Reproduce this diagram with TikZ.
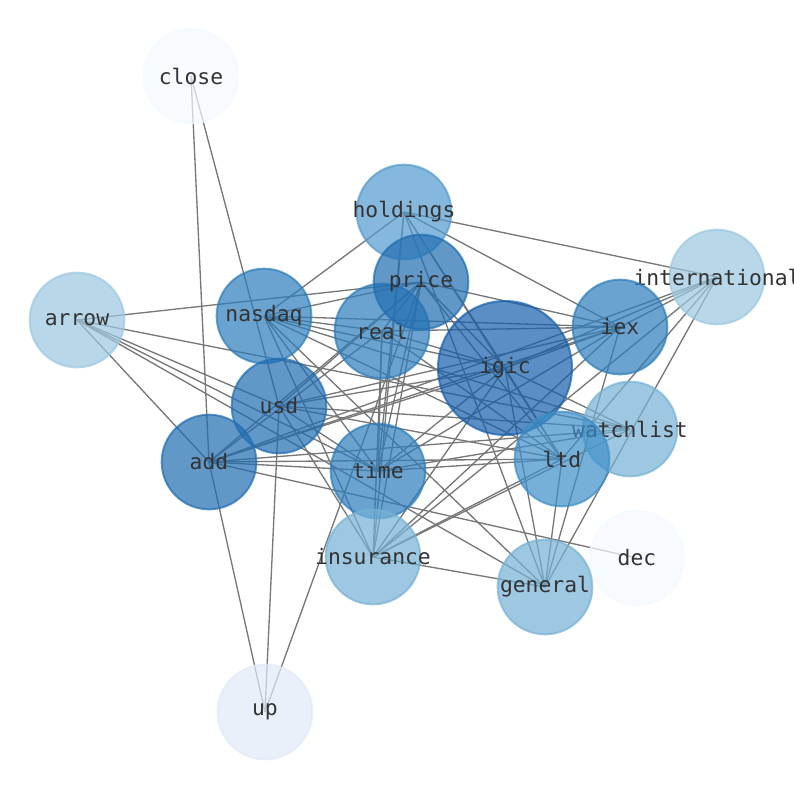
\documentclass[tikz,border=0pt]{standalone}
\usepackage{fontspec}
\setmonofont{DejaVu Sans Mono}
\usetikzlibrary{backgrounds}

\definecolor{b02}{RGB}{245,250,255}
\definecolor{b12}{RGB}{224,235,248}
\definecolor{b40}{RGB}{155,200,225}
\definecolor{b52}{RGB}{117,178,214}
\definecolor{b58}{RGB}{82,155,206}
\definecolor{b63}{RGB}{61,142,200}
\definecolor{b70}{RGB}{44,125,187}
\definecolor{b76}{RGB}{32,109,178}
\definecolor{b80}{RGB}{21,95,171}
\definecolor{edgegray}{RGB}{120,120,120}

\tikzset{
  word/.style={circle,minimum size=71pt,inner sep=0pt,line width=1.5pt,
    fill=#1,draw=#1,fill opacity=0.7,draw opacity=0.7},
  bigword/.style={word=#1,minimum size=100.5pt},
  lbl/.style={font=\ttfamily\fontsize{16}{18}\selectfont,text=black!80,
    text opacity=1,fill opacity=0,draw opacity=0,inner sep=0pt},
}

\begin{document}
\begin{tikzpicture}[x=0.75pt,y=-0.75pt]
  \useasboundingbox (0,0) rectangle (794,790);

  \node[word=b02,label={[lbl]center:close}] (close) at (191,76) {};
  \node[word=b58,label={[lbl]center:holdings}] (holdings) at (404,212) {};
  \node[word=b40,label={[lbl]center:international}] (international) at (717,277) {};
  \node[word=b40,label={[lbl]center:arrow}] (arrow) at (77,320) {};
  \node[word=b70,label={[lbl]center:nasdaq}] (nasdaq) at (264,316) {};
  \node[word=b70,label={[lbl]center:iex}] (iex) at (620,327) {};
  \node[word=b70,label={[lbl]center:real}] (real) at (382,331) {};
  \node[word=b76,label={[lbl]center:price}] (price) at (421,282) {};
  \node[bigword=b80,label={[lbl]center:igic}] (igic) at (505,368) {};
  \node[word=b52,label={[lbl]center:watchlist}] (watchlist) at (630,429) {};
  \node[word=b76,label={[lbl]center:usd}] (usd) at (279,406) {};
  \node[word=b63,label={[lbl]center:ltd}] (ltd) at (562,459) {};
  \node[word=b76,label={[lbl]center:add}] (add) at (209,462) {};
  \node[word=b70,label={[lbl]center:time}] (time) at (378,471) {};
  \node[word=b52,label={[lbl]center:insurance}] (insurance) at (373,557) {};
  \node[word=b02,label={[lbl]center:dec}] (dec) at (637,558) {};
  \node[word=b52,label={[lbl]center:general}] (general) at (545,587) {};
  \node[word=b12,label={[lbl]center:up}] (up) at (265,712) {};

  \begin{pgfonlayer}{background}
  \fill[white] (0,0) rectangle (794,790);
  \draw[every edge/.style={draw=edgegray,line width=1pt}]
  (close.center) edge (add.center)
  (close.center) edge (usd.center)
  (up.center) edge (add.center)
  (up.center) edge (usd.center)
  (up.center) edge (price.center)
  (arrow.center) edge (price.center)
  (arrow.center) edge (watchlist.center)
  (arrow.center) edge (usd.center)
  (arrow.center) edge (time.center)
  (arrow.center) edge (general.center)
  (arrow.center) edge (add.center)
  (holdings.center) edge (international.center)
  (holdings.center) edge (iex.center)
  (holdings.center) edge (nasdaq.center)
  (holdings.center) edge (ltd.center)
  (holdings.center) edge (time.center)
  (holdings.center) edge (insurance.center)
  (holdings.center) edge (general.center)
  (holdings.center) edge (igic.center)
  (international.center) edge (iex.center)
  (international.center) edge (igic.center)
  (international.center) edge (ltd.center)
  (international.center) edge (general.center)
  (international.center) edge (insurance.center)
  (international.center) edge (add.center)
  (nasdaq.center) edge (price.center)
  (nasdaq.center) edge (real.center)
  (nasdaq.center) edge (iex.center)
  (nasdaq.center) edge (igic.center)
  (nasdaq.center) edge (ltd.center)
  (nasdaq.center) edge (watchlist.center)
  (nasdaq.center) edge (time.center)
  (nasdaq.center) edge (insurance.center)
  (nasdaq.center) edge (general.center)
  (price.center) edge (real.center)
  (price.center) edge (iex.center)
  (price.center) edge (igic.center)
  (price.center) edge (ltd.center)
  (price.center) edge (time.center)
  (price.center) edge (add.center)
  (price.center) edge (insurance.center)
  (price.center) edge (usd.center)
  (real.center) edge (iex.center)
  (real.center) edge (igic.center)
  (real.center) edge (time.center)
  (real.center) edge (insurance.center)
  (real.center) edge (add.center)
  (real.center) edge (ltd.center)
  (iex.center) edge (igic.center)
  (iex.center) edge (usd.center)
  (iex.center) edge (add.center)
  (iex.center) edge (time.center)
  (iex.center) edge (general.center)
  (iex.center) edge (insurance.center)
  (igic.center) edge (usd.center)
  (igic.center) edge (add.center)
  (igic.center) edge (time.center)
  (igic.center) edge (insurance.center)
  (igic.center) edge (ltd.center)
  (igic.center) edge (watchlist.center)
  (igic.center) edge (general.center)
  (usd.center) edge (time.center)
  (usd.center) edge (ltd.center)
  (usd.center) edge (watchlist.center)
  (usd.center) edge (insurance.center)
  (add.center) edge (time.center)
  (add.center) edge (ltd.center)
  (add.center) edge (dec.center)
  (add.center) edge (watchlist.center)
  (time.center) edge (ltd.center)
  (time.center) edge (watchlist.center)
  (insurance.center) edge (general.center)
  (insurance.center) edge (watchlist.center)
  (insurance.center) edge (ltd.center)
  (ltd.center) edge (general.center)
  ;
  \end{pgfonlayer}
\end{tikzpicture}
\end{document}
